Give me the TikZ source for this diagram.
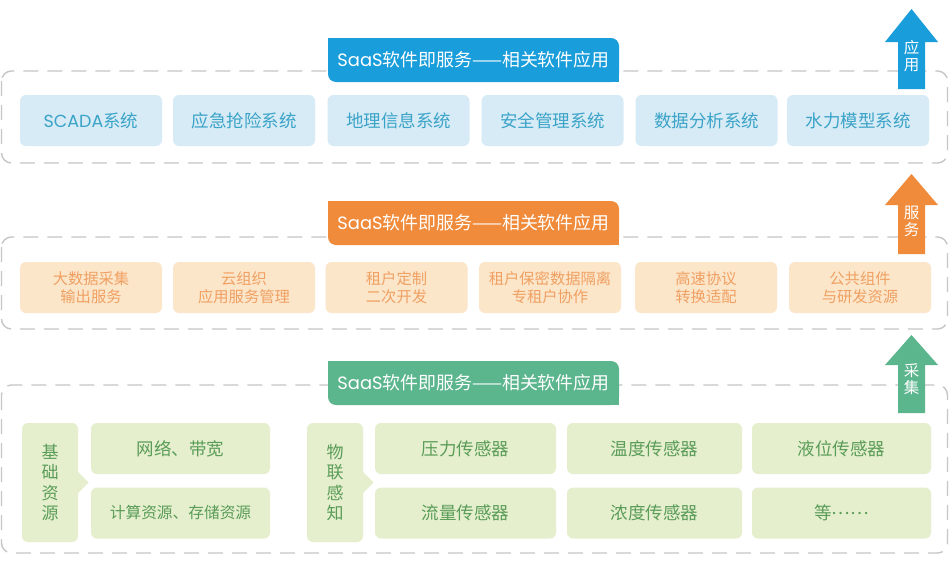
\documentclass[tikz,border=0pt]{standalone}
\usepackage{fontspec}
\setmainfont{Noto Sans CJK SC}
\newfontfamily\lat{Poppins}
\definecolor{tabB}{HTML}{1A9DDB}
\definecolor{boxB}{HTML}{D6EBF5}
\definecolor{txtB}{HTML}{3BA3C8}
\definecolor{tabO}{HTML}{F08B3B}
\definecolor{boxO}{HTML}{FCE6CA}
\definecolor{txtO}{HTML}{F0A062}
\definecolor{tabG}{HTML}{5BB58D}
\definecolor{boxG}{HTML}{E5EFCD}
\definecolor{txtG}{HTML}{5A9C58}
\definecolor{frameC}{HTML}{C6C6C6}
\begin{document}
\begin{tikzpicture}[x=1pt,y=-1pt,
  frame/.style={draw=frameC, line width=1.4pt, dash pattern=on 15pt off 9pt, rounded corners=10pt},
  box/.style={rounded corners=6pt, inner sep=0pt, minimum height=51pt, align=center},
  boxb/.style={box, fill=boxB, text=txtB, minimum width=142pt, font=\fontsize{17.5}{20}\selectfont},
  boxo/.style={box, fill=boxO, text=txtO, minimum width=142pt, font=\fontsize{15.3}{18.5}\selectfont},
  boxg/.style={box, fill=boxG, text=txtG, font=\fontsize{17.5}{20.5}\selectfont},
  tab/.style={rounded corners=8pt, minimum width=291pt, minimum height=44pt, inner sep=0pt, text=white, font=\fontsize{17.9}{20}\selectfont},
  arrtext/.style={text=white, align=center, inner sep=0pt, font=\fontsize{15.5}{17}\selectfont}
]
\useasboundingbox (0,0) rectangle (950,576);
\fill[white] (0,0) rectangle (950,576);

% ---------- frames
\draw[frame] (1.5,71) rectangle (947.5,163);
\draw[frame] (1.5,237) rectangle (947.5,329);
\draw[frame] (1.5,385) rectangle (947.5,553);

% ---------- tabs
\node[tab, fill=tabB] (tabA) at (473.5,60) {{\lat SaaS}软件即服务——相关软件应用};
\fill[tabB] (tabA.north west) rectangle ++(12,12);
\fill[tabB] (tabA.south east) rectangle ++(-12,-12);
\node[tab, fill=tabO] (tabS) at (473.5,223) {{\lat SaaS}软件即服务——相关软件应用};
\fill[tabO] (tabS.north west) rectangle ++(12,12);
\fill[tabO] (tabS.south east) rectangle ++(-12,-12);
\node[tab, fill=tabG] (tabC) at (473.5,383) {{\lat SaaS}软件即服务——相关软件应用};
\fill[tabG] (tabC.north west) rectangle ++(12,12);
\fill[tabG] (tabC.south east) rectangle ++(-12,-12);

% ---------- arrows
\fill[tabB] (911.5,9) -- (938,42) -- (925,42) -- (925,89) -- (898,89) -- (898,42) -- (885,42) -- cycle;
\node[arrtext] (arrA) at (911.5,56.5) {应\\用};
\fill[tabO] (911.5,174) -- (938,205) -- (925,205) -- (925,254) -- (898,254) -- (898,205) -- (885,205) -- cycle;
\node[arrtext] (arrS) at (911.5,221.5) {服\\务};
\fill[tabG] (911.5,335) -- (938,365) -- (925,365) -- (925,413) -- (898,413) -- (898,365) -- (885,365) -- cycle;
\node[arrtext] (arrC) at (911.5,379) {采\\集};

% ---------- application row
\node[boxb] (a1) at (91,120.5) {{\lat SCADA}系统};
\node[boxb] (a2) at (244,120.5) {应急抢险系统};
\node[boxb] (a3) at (398.5,120.5) {地理信息系统};
\node[boxb] (a4) at (552.5,120.5) {安全管理系统};
\node[boxb] (a5) at (706.5,120.5) {数据分析系统};
\node[boxb] (a6) at (858,120.5) {水力模型系统};

% ---------- service row
\node[boxo] (s1) at (91,287.5) {大数据采集\\输出服务};
\node[boxo] (s2) at (244,287.5) {云组织\\应用服务管理};
\node[boxo] (s3) at (396.5,287.5) {租户定制\\二次开发};
\node[boxo] (s4) at (550,287.5) {租户保密数据隔离\\专租户协作};
\node[boxo] (s5) at (706,287.5) {高速协议\\转换适配};
\node[boxo] (s6) at (860,287.5) {公共组件\\与研发资源};

% ---------- collection row
\node[boxg, minimum width=56pt, minimum height=119pt, font=\fontsize{17}{20.5}\selectfont] (jc) at (50,482.5) {基\\础\\资\\源};
\fill[boxG] (jc.east) ++(0,-10.5) -- ++(10.5,10.5) -- ++(-10.5,10.5) -- cycle;
\node[boxg, minimum width=179pt] (c1) at (180.5,448.5) {网络、带宽};
\node[boxg, minimum width=179pt, font=\fontsize{15.7}{19}\selectfont] (c2) at (180.5,513) {计算资源、存储资源};

\node[boxg, minimum width=56pt, minimum height=119pt, font=\fontsize{17}{20.5}\selectfont] (wl) at (335,482.5) {物\\联\\感\\知};
\fill[boxG] (wl.east) ++(0,-10.5) -- ++(10.5,10.5) -- ++(-10.5,10.5) -- cycle;
\node[boxg, minimum width=181pt] (p1) at (465.5,448.5) {压力传感器};
\node[boxg, minimum width=181pt] (p2) at (465.5,513) {流量传感器};
\node[boxg, minimum width=175pt] (p3) at (654.5,448.5) {温度传感器};
\node[boxg, minimum width=175pt] (p4) at (654.5,513) {浓度传感器};
\node[boxg, minimum width=179pt] (p5) at (841.5,448.5) {液位传感器};
\node[boxg, minimum width=179pt] (p6) at (841.5,513) {等\raisebox{0.3em}{……}};
\end{tikzpicture}
\end{document}
